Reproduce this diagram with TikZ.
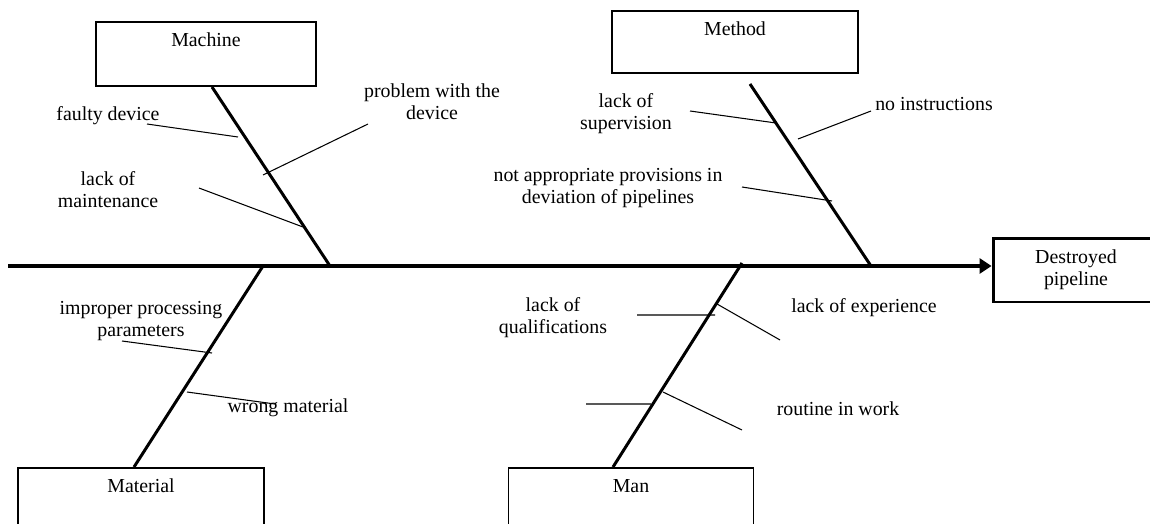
\documentclass[tikz,border=0pt]{standalone}
\usepackage{fontspec}
\setmainfont{Liberation Serif}
\usetikzlibrary{positioning,calc,arrows.meta}
\tikzset{
  causebox/.style={draw,line width=1.1pt,minimum height=1.28cm,inner sep=0pt},
  boxtext/.style={anchor=center,inner sep=0pt,yshift=-0.38cm},
  bone/.style={line width=1.7pt},
  twig/.style={line width=0.6pt},
  cause/.style={align=center,inner sep=0pt}
}
\begin{document}
\begin{tikzpicture}[x=0.02cm,y=-0.02cm,font=\fontsize{11.3}{12.5}\selectfont]
\clip (0,0) rectangle (1150,524);
\node[causebox,minimum width=4.4cm,label={[boxtext]north:Machine}] (machine) at (206,54) {};
\node[causebox,minimum width=4.92cm,minimum height=1.24cm,label={[boxtext]north:Method}] (method) at (735,42) {};
\node[causebox,minimum width=4.92cm,minimum height=1.6cm,label={[boxtext]north:Material}] (material) at (141,508) {};
\node[causebox,minimum width=4.9cm,minimum height=1.6cm,label={[boxtext]north:Man}] (man) at (631,508) {};
\node[causebox,line width=1.7pt,minimum width=3.32cm,align=center] (pipe) at (1076,270) {Destroyed\\pipeline};
\coordinate (tail) at (8,266);
\draw[line width=2.8pt,-{Triangle[length=0.24cm,width=0.3cm]}] (tail)--(tail -| pipe.west);
\coordinate (jmach) at (330,266);
\coordinate (jmeth) at (871,266);
\coordinate (jmat) at (263,266);
\coordinate (jman) at (742,263);
\draw[bone] ($(machine.south)+(6,0)$)--(jmach);
\draw[bone] ($(method.south)+(15,10)$)--(jmeth);
\draw[bone] (jmat)--($(material.north)+(-7,0)$);
\draw[bone] (jman)--($(man.north)+(-18,0)$);
\node[cause] (faulty) at (108,116) {faulty device};
\node[cause] (problem) at (432,102) {problem with the\\device};
\node[cause] (maint) at (108,190) {lack of\\maintenance};
\node[cause] (superv) at (626,114) {lack of\\supervision};
\node[cause] (instr) at (934,104) {no instructions};
\node[cause] (provis) at (608,188) {not appropriate provisions in\\deviation of pipelines};
\node[cause] (improper) at (141,321) {improper processing\\parameters};
\node[cause] (wrong) at (288,408) {wrong material};
\node[cause] (qualif) at (553,318) {lack of\\qualifications};
\node[cause] (exper) at (864,308) {lack of experience};
\node[cause] (routine) at (838,409) {routine in work};
\path (147,124) coordinate (fd1) (238,137) coordinate (fd2)
      (368,124) coordinate (pw1) (263,175) coordinate (pw2)
      (199,188) coordinate (lm1) (303,227) coordinate (lm2)
      (690,111) coordinate (ls1) (776,123) coordinate (ls2)
      (871,111) coordinate (ni1) (798,139) coordinate (ni2)
      (742,187) coordinate (np1) (832,201) coordinate (np2)
      (122,341) coordinate (ip1) (212,353) coordinate (ip2)
      (187,392) coordinate (wm1) (275,404) coordinate (wm2)
      (637,315) coordinate (lq1) (715,315) coordinate (lq2)
      (717,304) coordinate (le1) (780,340) coordinate (le2)
      (586,404) coordinate (un1) (651,404) coordinate (un2)
      (663,392) coordinate (rw1) (742,430) coordinate (rw2);
\draw[twig] (fd1)--(fd2) (pw1)--(pw2) (lm1)--(lm2) (ls1)--(ls2) (ni1)--(ni2) (np1)--(np2);
\draw[twig] (ip1)--(ip2) (wm1)--(wm2) (lq1)--(lq2) (le1)--(le2) (un1)--(un2) (rw1)--(rw2);
\end{tikzpicture}
\end{document}
